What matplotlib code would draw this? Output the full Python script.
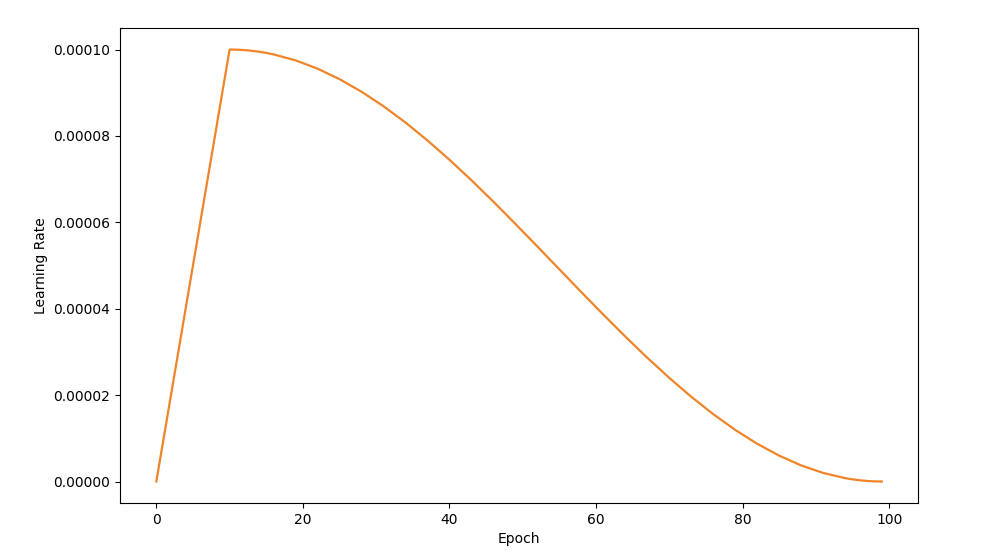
import matplotlib
matplotlib.use("Agg")
import matplotlib.pyplot as plt

# learning rate per epoch (units of 1e-5)
epochs = [0, 10, 11, 12, 13, 14, 15, 16, 19, 22, 25, 28, 31, 34, 37, 40, 43, 46,
          49, 52, 55, 58, 61, 64, 67, 70, 73, 76, 79, 82, 85, 88, 91, 94, 95,
          96, 97, 98, 99]
lr_e5 = [0.0, 10.000, 9.997, 9.988, 9.972, 9.950, 9.922, 9.888, 9.750, 9.558,
         9.315, 9.024, 8.688, 8.311, 7.896, 7.449, 6.975, 6.478, 5.964, 5.441,
         4.912, 4.384, 3.863, 3.355, 2.865, 2.399, 1.962, 1.559, 1.194, 0.874,
         0.598, 0.372, 0.198, 0.078, 0.050, 0.028, 0.012, 0.003, 0.0]
lr = [v * 1e-5 for v in lr_e5]

fig = plt.figure(figsize=(9.84, 5.59), dpi=100)
ax = fig.add_axes([0.122, 0.100, 0.811, 0.850])
ax.plot(epochs, lr, c='#ef8428', linewidth=1.6)
ax.set_xlabel('Epoch')
ax.set_ylabel('Learning Rate')
ax.set_xticks([0, 20, 40, 60, 80, 100])
ax.set_yticks([0, 2e-5, 4e-5, 6e-5, 8e-5, 1e-4])
ax.set_yticklabels(['0.00000', '0.00002', '0.00004', '0.00006', '0.00008', '0.00010'])

fig.savefig('out.png', dpi=100)
